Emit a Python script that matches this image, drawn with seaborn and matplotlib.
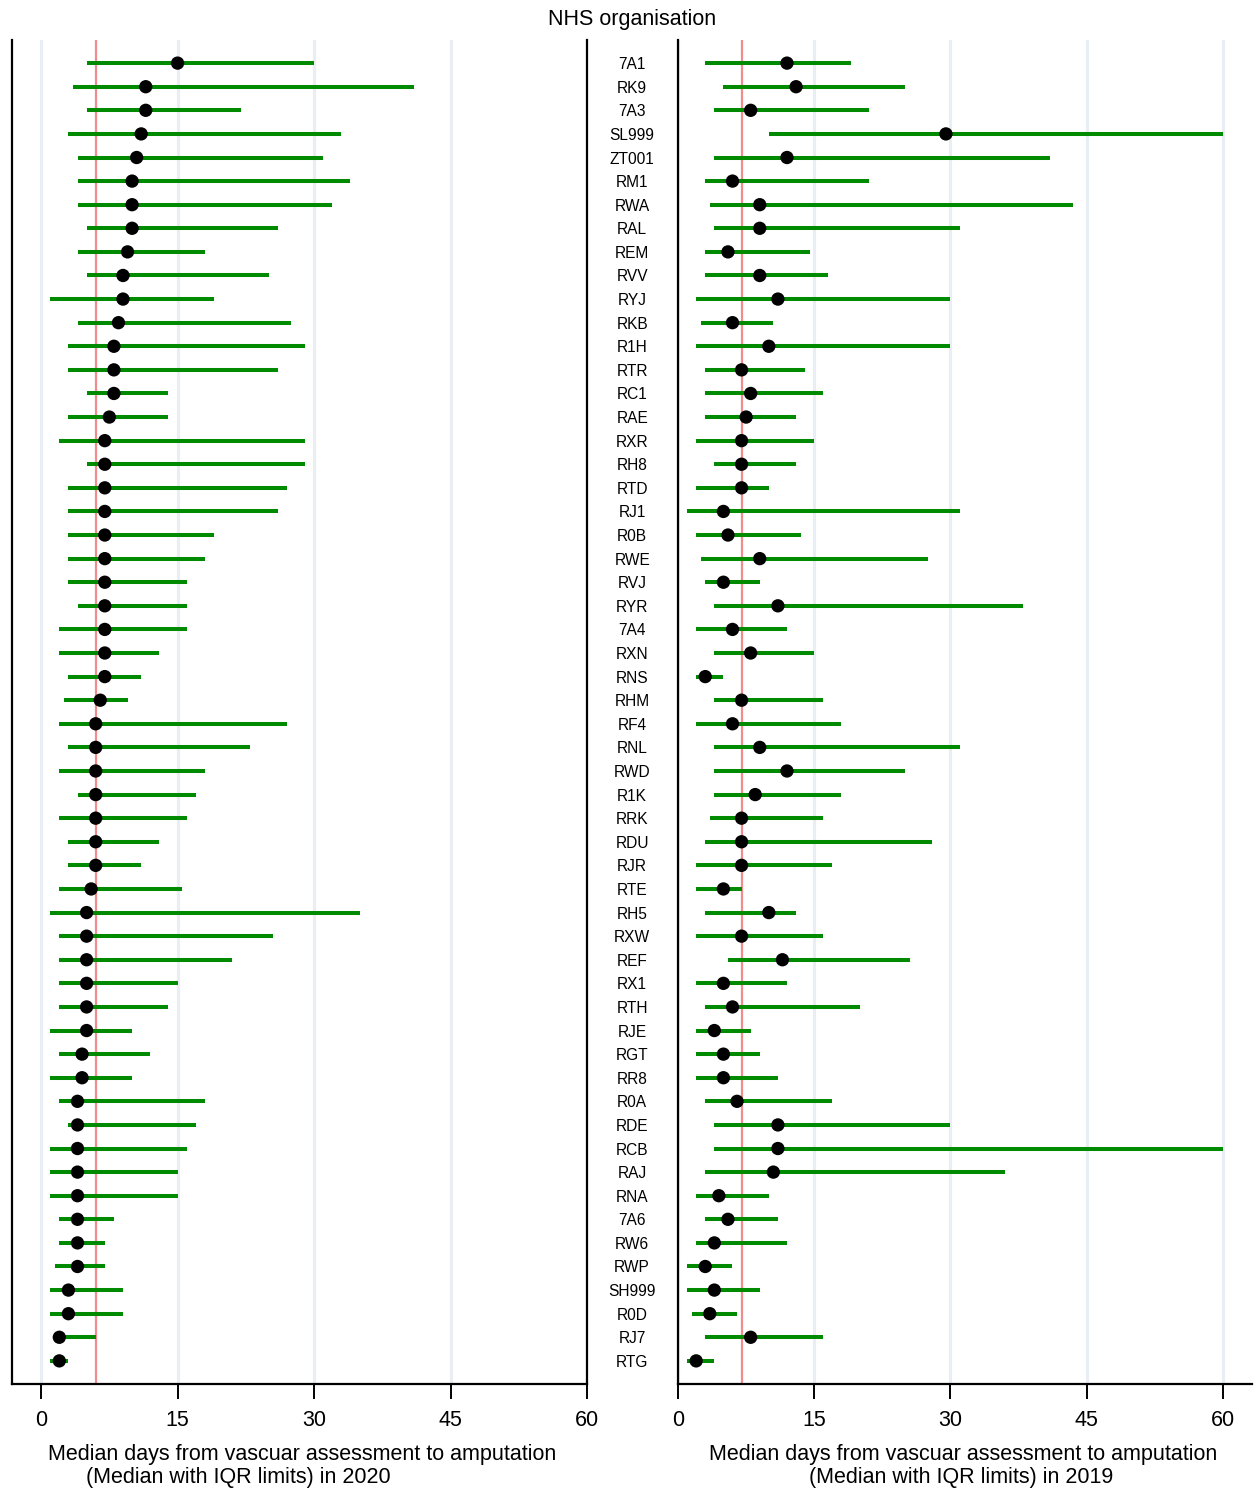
import numpy as np
import pandas as pd
import matplotlib
matplotlib.use("Agg")
import matplotlib.pyplot as plt
import seaborn as sns

# NHS organisations, ordered by 2020 median (descending)
orgs = ["7A1", "RK9", "7A3", "SL999", "ZT001", "RM1", "RWA", "RAL", "REM", "RVV",
        "RYJ", "RKB", "R1H", "RTR", "RC1", "RAE", "RXR", "RH8", "RTD", "RJ1",
        "R0B", "RWE", "RVJ", "RYR", "7A4", "RXN", "RNS", "RHM", "RF4", "RNL",
        "RWD", "R1K", "RRK", "RDU", "RJR", "RTE", "RH5", "RXW", "REF", "RX1",
        "RTH", "RJE", "RGT", "RR8", "R0A", "RDE", "RCB", "RAJ", "RNA", "7A6",
        "RW6", "RWP", "SH999", "R0D", "RJ7", "RTG"]

# 2020: median days and IQR limits
med_2020 = [15, 11.5, 11.5, 11, 10.5, 10, 10, 10, 9.5, 9,
            9, 8.5, 8, 8, 8, 7.5, 7, 7, 7, 7,
            7, 7, 7, 7, 7, 7, 7, 6.5, 6, 6,
            6, 6, 6, 6, 6, 5.5, 5, 5, 5, 5,
            5, 5, 4.5, 4.5, 4, 4, 4, 4, 4, 4,
            4, 4, 3, 3, 2, 2]
q1_2020 = [5, 3.5, 5, 3, 4, 4, 4, 5, 4, 5,
           1, 4, 3, 3, 5, 3, 2, 5, 3, 3,
           3, 3, 3, 4, 2, 2, 3, 2.5, 2, 3,
           2, 4, 2, 3, 3, 2, 1, 2, 2, 2,
           2, 1, 2, 1, 2, 3, 1, 1, 1, 2,
           2, 1.5, 1, 1, 2, 1]
q3_2020 = [30, 41, 22, 33, 31, 34, 32, 26, 18, 25,
           19, 27.5, 29, 26, 14, 14, 29, 29, 27, 26,
           19, 18, 16, 16, 16, 13, 11, 9.5, 27, 23,
           18, 17, 16, 13, 11, 15.5, 35, 25.5, 21, 15,
           14, 10, 12, 10, 18, 17, 16, 15, 15, 8,
           7, 7, 9, 9, 6, 3]

# 2019: median days and IQR limits
med_2019 = [12, 13, 8, 29.5, 12, 6, 9, 9, 5.5, 9,
            11, 6, 10, 7, 8, 7.5, 7, 7, 7, 5,
            5.5, 9, 5, 11, 6, 8, 3, 7, 6, 9,
            12, 8.5, 7, 7, 7, 5, 10, 7, 11.5, 5,
            6, 4, 5, 5, 6.5, 11, 11, 10.5, 4.5, 5.5,
            4, 3, 4, 3.5, 8, 2]
q1_2019 = [3, 5, 4, 10, 4, 3, 3.5, 4, 3, 3,
           2, 2.5, 2, 3, 3, 3, 2, 4, 2, 1,
           2, 2.5, 3, 4, 2, 4, 2, 4, 2, 4,
           4, 4, 3.5, 3, 2, 2, 3, 2, 5.5, 2,
           3, 2, 2, 2, 3, 4, 4, 3, 2, 3,
           2, 1, 1, 1.5, 3, 1]
q3_2019 = [19, 25, 21, 60, 41, 21, 43.5, 31, 14.5, 16.5,
           30, 10.5, 30, 14, 16, 13, 15, 13, 10, 31,
           13.5, 27.5, 9, 38, 12, 15, 5, 16, 18, 31,
           25, 18, 16, 28, 17, 7, 13, 16, 25.5, 12,
           20, 8, 9, 11, 17, 30, 60, 36, 10, 11,
           12, 6, 9, 6.5, 16, 4]

ticks = [0, 15, 30, 45, 60]
national_2020 = 6
national_2019 = 7

title_main = "Median days from vascuar assessment to amputation"
title_2020 = "(Median with IQR limits) in 2020"
title_2019 = "(Median with IQR limits) in 2019"

sns.set_theme(style="white")
plt.rcParams["font.family"] = ["Liberation Sans", "DejaVu Sans"]
plt.rcParams.update({"text.color": "black", "axes.labelcolor": "black",
                     "xtick.color": "black", "ytick.color": "black"})

W, H = 1259, 1488
fig = plt.figure(figsize=(W / 100, H / 100), dpi=100)

top = 1 - 40 / H
bottom = 1 - 1384 / H
ax_l = fig.add_axes([12 / W, bottom, 575 / W, top - bottom])
ax_r = fig.add_axes([678 / W, bottom, 574 / W, top - bottom])

pos = np.arange(len(orgs))
df20 = pd.DataFrame({"org": orgs, "pos": pos, "median": med_2020, "q1": q1_2020, "q3": q3_2020})
df19 = pd.DataFrame({"org": orgs, "pos": pos, "median": med_2019, "q1": q1_2019, "q3": q3_2019})

green = "#008a00"
grid_c = "#e9edf4"
ref_c = "#f28b8b"

for ax, df, ref, xlim in [
    (ax_l, df20, national_2020, (-3.2, 60)),
    (ax_r, df19, national_2019, (0, 63.2)),
]:
    for t in ticks:
        ax.axvline(t, color=grid_c, lw=2.2, zorder=0)
    ax.axvline(ref, color=ref_c, lw=1.6, zorder=1)
    ax.hlines(df["pos"], df["q1"], df["q3"], color=green, lw=2.9, zorder=2)
    sns.scatterplot(data=df, x="median", y="pos", ax=ax, color="black",
                    s=92, edgecolor="none", zorder=3, legend=False)
    ax.set_xlim(*xlim)
    ax.set_ylim(len(orgs) - 1 + 0.98, -0.98)
    ax.set_xticks(ticks)
    ax.set_xticklabels([str(t) for t in ticks])
    ax.tick_params(axis="x", direction="out", length=11, width=1.4, color="black",
                   labelsize=15.5, pad=8, bottom=True)
    ax.set_xlabel("")
    ax.set_ylabel("")
    ax.spines["top"].set_visible(False)
    for s in ["left", "bottom", "right"]:
        ax.spines[s].set_color("black")
        ax.spines[s].set_linewidth(1.6)

ax_l.set_yticks([])
ax_r.spines["right"].set_visible(False)
ax_r.set_yticks(pos)
ax_r.set_yticklabels(orgs, fontsize=11.2, ha="center")
ax_r.tick_params(axis="y", length=0, pad=33)

# axis titles (two lines under each panel)
fig.text(302 / W, 1 - 1460 / H, title_main, ha="center", va="baseline", fontsize=15.5)
fig.text(238 / W, 1 - 1483 / H, title_2020, ha="center", va="baseline", fontsize=15.5)
fig.text(963 / W, 1 - 1460 / H, title_main, ha="center", va="baseline", fontsize=15.5)
fig.text(961 / W, 1 - 1483 / H, title_2019, ha="center", va="baseline", fontsize=15.5)

fig.text(632 / W, 1 - 20 / H, "NHS organisation", ha="center", va="center", fontsize=15.5)

fig.savefig("out.png", dpi=100)
